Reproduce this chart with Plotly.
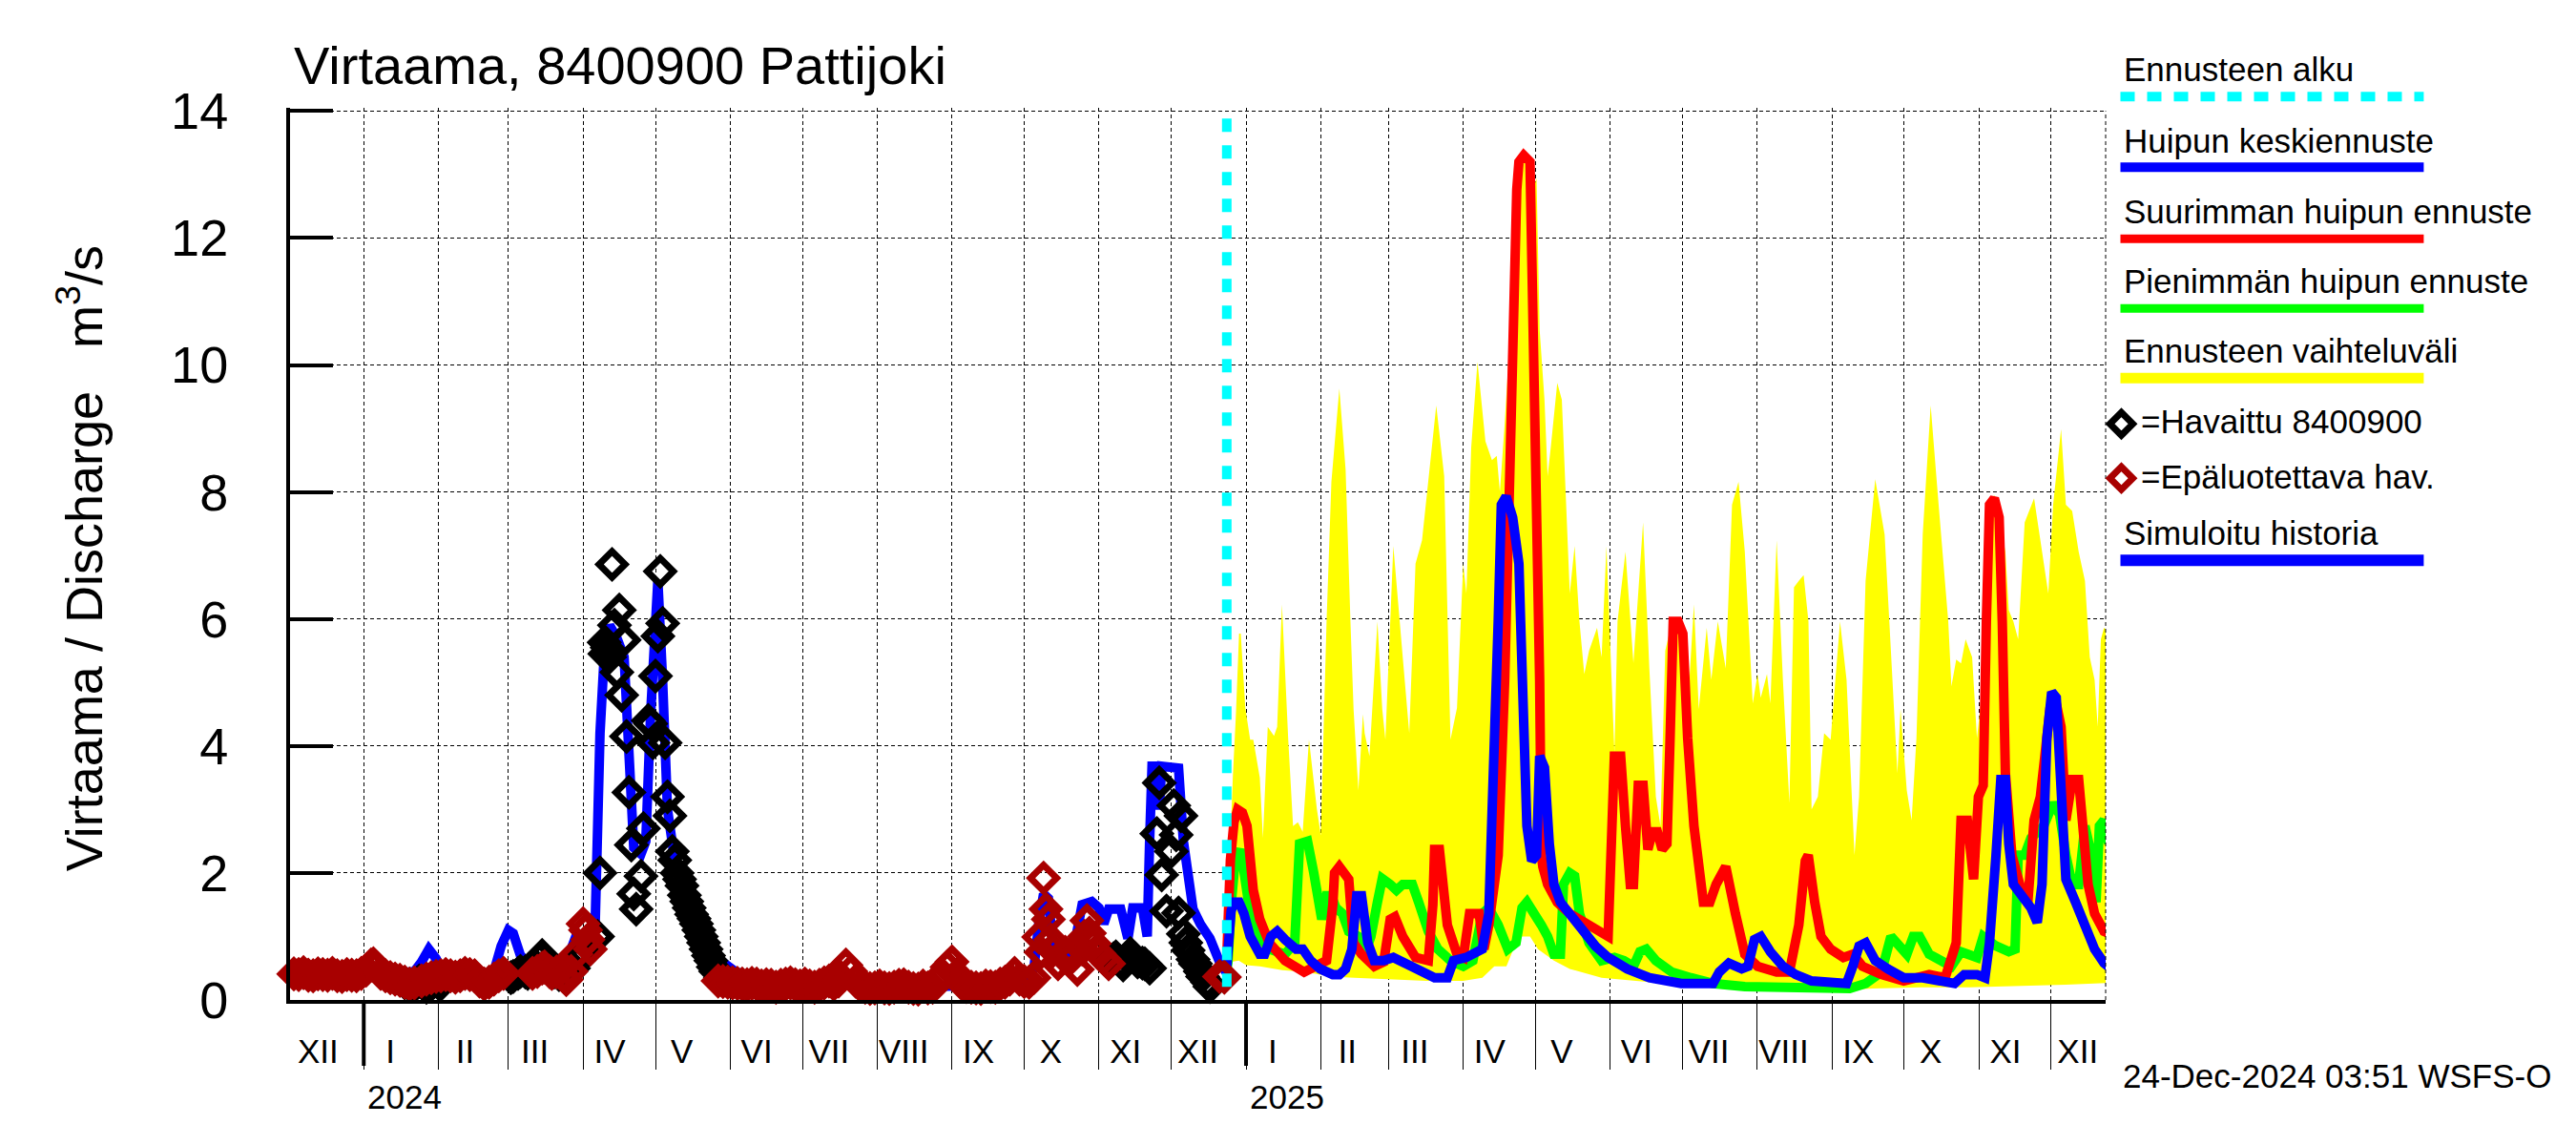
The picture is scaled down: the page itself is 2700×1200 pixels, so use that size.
import plotly.graph_objects as go
import pandas as pd

# ---------------- data ----------------
FORECAST_START = "2024-12-24"
X_START = "2023-12-01 10:00"
X_END = "2025-12-23 14:00"
FC_BASE = "2025-01-01"          # forecast day offsets are counted from this date

MONTH_LABELS = ["XII",
                "I", "II", "III", "IV", "V", "VI", "VII", "VIII", "IX", "X", "XI", "XII",
                "I", "II", "III", "IV", "V", "VI", "VII", "VIII", "IX", "X", "XI", "XII"]
YEAR_STARTS = ["2024-01-01", "2025-01-01"]
YEAR_LABELS = ["2024", "2025"]
Y_TICKS = [0, 2, 4, 6, 8, 10, 12, 14]

TITLE = "Virtaama, 8400900 Pattijoki"
Y_TITLE = "Virtaama / Discharge\u00a0\u00a0\u00a0m<sup>3</sup>/s"
STAMP = "24-Dec-2024 03:51 WSFS-O"

# simulated history (blue)
SIM_HISTORY = [
    ("2023-12-01", 0.42), ("2023-12-10", 0.40), ("2023-12-20", 0.38), ("2023-12-31", 0.36),
    ("2024-01-08", 0.38), ("2024-01-15", 0.42), ("2024-01-22", 0.45), ("2024-01-25", 0.60),
    ("2024-01-28", 0.80), ("2024-01-31", 0.65), ("2024-02-03", 0.42), ("2024-02-10", 0.38),
    ("2024-02-18", 0.36), ("2024-02-24", 0.45), ("2024-02-27", 0.85), ("2024-03-01", 1.10),
    ("2024-03-03", 1.05), ("2024-03-06", 0.70), ("2024-03-10", 0.55), ("2024-03-15", 0.50),
    ("2024-03-20", 0.45), ("2024-03-25", 0.60), ("2024-03-29", 1.00), ("2024-04-03", 1.05),
    ("2024-04-06", 1.20), ("2024-04-08", 4.20), ("2024-04-10", 5.60), ("2024-04-12", 5.90),
    ("2024-04-15", 5.70), ("2024-04-18", 5.40), ("2024-04-20", 4.00), ("2024-04-22", 2.40),
    ("2024-04-25", 2.30), ("2024-04-27", 2.50), ("2024-04-29", 4.50), ("2024-05-01", 6.40),
    ("2024-05-02", 6.60), ("2024-05-04", 5.00), ("2024-05-06", 3.00), ("2024-05-09", 2.20),
    ("2024-05-13", 1.70), ("2024-05-16", 1.45), ("2024-05-21", 1.00), ("2024-05-27", 0.65),
    ("2024-06-03", 0.45), ("2024-06-10", 0.35), ("2024-06-20", 0.30), ("2024-07-01", 0.27),
    ("2024-07-15", 0.25), ("2024-08-01", 0.22), ("2024-08-15", 0.20), ("2024-09-01", 0.22),
    ("2024-09-15", 0.22), ("2024-09-25", 0.25), ("2024-10-01", 0.30), ("2024-10-05", 0.50),
    ("2024-10-07", 1.20), ("2024-10-09", 1.67), ("2024-10-11", 1.60), ("2024-10-13", 0.80),
    ("2024-10-18", 0.60), ("2024-10-22", 0.90), ("2024-10-25", 1.50), ("2024-10-29", 1.55),
    ("2024-11-01", 1.45), ("2024-11-03", 1.20), ("2024-11-05", 1.43), ("2024-11-10", 1.43),
    ("2024-11-13", 0.97), ("2024-11-15", 1.45), ("2024-11-19", 1.45), ("2024-11-21", 1.00),
    ("2024-11-22", 2.50), ("2024-11-23", 3.68), ("2024-11-25", 3.68), ("2024-11-26", 3.00),
    ("2024-11-27", 3.68), ("2024-12-04", 3.65), ("2024-12-06", 2.50), ("2024-12-08", 1.90),
    ("2024-12-10", 1.43), ("2024-12-13", 1.20), ("2024-12-17", 0.97), ("2024-12-21", 0.60),
    ("2024-12-24", 0.42),
]

# observed (black diamonds)
OBS_BLACK = [
    ("2024-01-18", 0.27), ("2024-01-20", 0.24), ("2024-01-21", 0.22), ("2024-01-23", 0.26),
    ("2024-01-24", 0.30), ("2024-01-26", 0.24), ("2024-01-27", 0.20), ("2024-01-29", 0.25),
    ("2024-01-30", 0.28), ("2024-02-01", 0.26), ("2024-02-02", 0.25),
    ("2024-03-02", 0.35), ("2024-03-03", 0.37), ("2024-03-05", 0.42), ("2024-03-06", 0.45),
    ("2024-03-08", 0.44), ("2024-03-09", 0.42), ("2024-03-11", 0.50), ("2024-03-12", 0.55),
    ("2024-03-14", 0.65), ("2024-03-15", 0.70), ("2024-03-17", 0.58), ("2024-03-18", 0.50),
    ("2024-03-20", 0.44), ("2024-03-22", 0.40), ("2024-03-26", 0.42), ("2024-03-28", 0.50),
    ("2024-03-30", 0.62), ("2024-03-31", 0.72), ("2024-04-03", 0.90),
    ("2024-04-07", 1.00), ("2024-04-08", 2.00), ("2024-04-09 18:00", 5.63), ("2024-04-10", 5.45),
    ("2024-04-11", 5.55), ("2024-04-12", 5.40), ("2024-04-13", 6.86), ("2024-04-14", 5.90),
    ("2024-04-15", 5.16), ("2024-04-16", 6.14), ("2024-04-17", 4.80), ("2024-04-18", 5.67),
    ("2024-04-19", 4.15), ("2024-04-20", 3.27), ("2024-04-21", 2.44), ("2024-04-22", 1.67),
    ("2024-04-23", 1.43), ("2024-04-25", 1.95), ("2024-04-26", 2.70), ("2024-04-28", 4.40),
    ("2024-04-29", 4.35), ("2024-04-30", 4.05), ("2024-05-01", 5.10), ("2024-05-02", 5.73),
    ("2024-05-03", 6.75), ("2024-05-04", 5.93), ("2024-05-05", 4.05), ("2024-05-06", 3.20),
    ("2024-05-07", 2.90), ("2024-05-08", 2.34), ("2024-05-09", 2.20), ("2024-05-10", 2.00),
    ("2024-05-11", 1.90), ("2024-05-12", 1.80), ("2024-05-13", 1.65), ("2024-05-14", 1.55),
    ("2024-05-15", 1.45), ("2024-05-16", 1.35), ("2024-05-17", 1.28), ("2024-05-18", 1.20),
    ("2024-05-19", 1.10), ("2024-05-20", 1.00), ("2024-05-21", 0.90), ("2024-05-22", 0.80),
    ("2024-05-23", 0.70), ("2024-05-24", 0.62), ("2024-05-25", 0.52), ("2024-05-26", 0.45),
    ("2024-05-28", 0.35),
    ("2024-11-05", 0.60), ("2024-11-07", 0.65), ("2024-11-08", 0.68), ("2024-11-10", 0.60),
    ("2024-11-11", 0.55), ("2024-11-13", 0.66), ("2024-11-14", 0.73), ("2024-11-16", 0.65),
    ("2024-11-17", 0.60), ("2024-11-19", 0.58), ("2024-11-20", 0.57), ("2024-11-22", 0.50),
    ("2024-11-25", 2.62), ("2024-11-26", 3.42), ("2024-11-27", 1.97), ("2024-11-29", 1.40),
    ("2024-12-01", 2.34), ("2024-12-02", 3.06), ("2024-12-03", 2.60), ("2024-12-04", 1.37),
    ("2024-12-05", 2.90), ("2024-12-06", 1.04), ("2024-12-07", 0.90), ("2024-12-08", 0.78),
    ("2024-12-10", 0.64), ("2024-12-11", 0.57), ("2024-12-13", 0.45), ("2024-12-14", 0.37),
    ("2024-12-16", 0.28), ("2024-12-17", 0.21),
]

# unreliable observations (dark red diamonds)
OBS_RED = [
    ("2023-12-01", 0.42), ("2023-12-03", 0.41), ("2023-12-05", 0.40), ("2023-12-07", 0.43),
    ("2023-12-09", 0.39), ("2023-12-11", 0.38), ("2023-12-13", 0.41), ("2023-12-15", 0.40),
    ("2023-12-17", 0.39), ("2023-12-19", 0.42), ("2023-12-21", 0.38), ("2023-12-23", 0.37),
    ("2023-12-25", 0.40), ("2023-12-27", 0.39), ("2023-12-29", 0.38), ("2023-12-31", 0.42),
    ("2024-01-02", 0.47), ("2024-01-04", 0.55), ("2024-01-05", 0.57), ("2024-01-06", 0.52),
    ("2024-01-08", 0.42), ("2024-01-10", 0.38), ("2024-01-12", 0.35), ("2024-01-14", 0.33),
    ("2024-01-16", 0.31), ("2024-01-18", 0.28), ("2024-01-20", 0.25), ("2024-01-22", 0.27),
    ("2024-01-25", 0.30), ("2024-01-27", 0.33), ("2024-01-29", 0.35), ("2024-01-31", 0.37),
    ("2024-02-02", 0.38), ("2024-02-04", 0.40), ("2024-02-06", 0.38), ("2024-02-08", 0.36),
    ("2024-02-10", 0.38), ("2024-02-12", 0.42), ("2024-02-14", 0.40), ("2024-02-16", 0.38),
    ("2024-02-18", 0.30), ("2024-02-20", 0.25), ("2024-02-22", 0.28), ("2024-02-24", 0.33),
    ("2024-02-26", 0.38), ("2024-02-28", 0.42),
    ("2024-03-11", 0.42), ("2024-03-13", 0.45), ("2024-03-15", 0.50), ("2024-03-16", 0.52),
    ("2024-03-18", 0.45), ("2024-03-19", 0.42), ("2024-03-21", 0.44), ("2024-03-22", 0.45),
    ("2024-03-24", 0.38), ("2024-03-25", 0.32), ("2024-03-27", 0.45), ("2024-03-29", 0.72),
    ("2024-04-01", 1.20), ("2024-04-02", 1.10), ("2024-04-03", 0.95), ("2024-04-04", 0.80),
    ("2024-05-27", 0.30), ("2024-05-29", 0.29), ("2024-05-31", 0.28), ("2024-06-02", 0.27),
    ("2024-06-04", 0.26), ("2024-06-06", 0.25), ("2024-06-08", 0.24), ("2024-06-10", 0.26),
    ("2024-06-12", 0.25), ("2024-06-14", 0.22), ("2024-06-16", 0.24), ("2024-06-18", 0.23),
    ("2024-06-20", 0.20), ("2024-06-22", 0.23), ("2024-06-24", 0.25), ("2024-06-26", 0.27),
    ("2024-06-28", 0.24), ("2024-06-30", 0.22), ("2024-07-02", 0.25), ("2024-07-04", 0.22),
    ("2024-07-06", 0.20), ("2024-07-08", 0.23), ("2024-07-10", 0.27), ("2024-07-12", 0.30),
    ("2024-07-14", 0.25), ("2024-07-16", 0.30), ("2024-07-17", 0.35), ("2024-07-19", 0.55),
    ("2024-07-21", 0.45), ("2024-07-23", 0.30), ("2024-07-25", 0.23), ("2024-07-27", 0.20),
    ("2024-07-29", 0.18), ("2024-07-31", 0.19), ("2024-08-02", 0.22), ("2024-08-04", 0.19),
    ("2024-08-06", 0.18), ("2024-08-08", 0.20), ("2024-08-10", 0.23), ("2024-08-12", 0.24),
    ("2024-08-14", 0.20), ("2024-08-16", 0.18), ("2024-08-18", 0.17), ("2024-08-20", 0.22),
    ("2024-08-22", 0.19), ("2024-08-24", 0.20), ("2024-08-26", 0.30), ("2024-08-28", 0.40),
    ("2024-08-30", 0.52), ("2024-09-01", 0.60), ("2024-09-03", 0.40), ("2024-09-05", 0.26),
    ("2024-09-07", 0.21), ("2024-09-09", 0.20), ("2024-09-11", 0.19), ("2024-09-13", 0.18),
    ("2024-09-15", 0.22), ("2024-09-17", 0.21), ("2024-09-19", 0.20), ("2024-09-21", 0.25),
    ("2024-09-23", 0.28), ("2024-09-25", 0.33), ("2024-09-27", 0.42), ("2024-09-29", 0.33),
    ("2024-10-01", 0.29), ("2024-10-03", 0.28), ("2024-10-05", 0.35), ("2024-10-07", 0.99),
    ("2024-10-08", 0.75), ("2024-10-09", 1.92), ("2024-10-10", 1.43), ("2024-10-11", 1.27),
    ("2024-10-12", 0.95), ("2024-10-13", 0.78), ("2024-10-15", 0.57), ("2024-10-17", 0.70),
    ("2024-10-18", 0.75), ("2024-10-20", 0.72), ("2024-10-21", 0.68), ("2024-10-23", 0.48),
    ("2024-10-25", 0.80), ("2024-10-26", 1.00), ("2024-10-27", 1.25), ("2024-10-28", 1.05),
    ("2024-10-30", 0.89), ("2024-11-01", 0.73), ("2024-11-03", 0.65), ("2024-11-05", 0.57),
    ("2024-12-21", 0.37), ("2024-12-23", 0.36),
]

# forecasts: (days after 2025-01-01, value)
FC_MAX = [  # red, largest peak
    (-8.2, 0.45), (-7.5, 1.3), (-6.5, 2.2), (-5, 2.8), (-3.5, 3.0), (-1.5, 2.95), (0.4, 2.74),
    (3.0, 1.73), (5.7, 1.27), (9.6, 0.9), (16.2, 0.62), (24.1, 0.44), (29.4, 0.53), (33.4, 0.62),
    (36.0, 1.5), (36.7, 2.0), (38.7, 2.1), (42.6, 1.9), (44.6, 0.9), (47.9, 0.72), (53.2, 0.53),
    (57.1, 0.6), (59.8, 1.27), (61.7, 1.31), (65.0, 1.0), (70.3, 0.67), (75.6, 0.62), (77.5, 1.5),
    (78.2, 2.37), (80.2, 2.37), (83.5, 1.18), (87.5, 0.72), (90.1, 0.67), (92.7, 1.36), (96.7, 1.36),
    (98.7, 0.8), (100.7, 1.18), (104.6, 2.28), (107.3, 5.04), (108.6, 7.15), (109.9, 9.63),
    (111.2, 11.47), (112.3, 12.76), (113.2, 13.2), (115.2, 13.3), (117.8, 13.2), (118.5, 11.9),
    (120.5, 7.8), (121.8, 5.04), (122.5, 2.28), (123.1, 2.1), (125.1, 1.82), (129.1, 1.54),
    (134.3, 1.36), (142.3, 1.18), (147.5, 1.08), (150.2, 1.0), (152.8, 3.84), (155.4, 3.84),
    (157.4, 2.74), (159.4, 1.82), (160.7, 1.82), (162.7, 3.38), (164.7, 3.38), (166.7, 2.37),
    (168.6, 2.65), (170.6, 2.65), (172.6, 2.37), (174.6, 2.46), (175.9, 4.12), (177.2, 5.96),
    (179.2, 5.96), (181.2, 5.77), (183.2, 4.12), (185.8, 2.74), (189.7, 1.54), (192.4, 1.54),
    (195.0, 1.82), (199.0, 2.1), (203.0, 1.36), (206.9, 0.72), (212.2, 0.53), (220.1, 0.44),
    (225.4, 0.44), (229.3, 1.18), (232.0, 2.19), (233.2, 2.28), (235.9, 1.54), (238.5, 1.0),
    (242.5, 0.8), (247.8, 0.67), (251.7, 0.72), (255.7, 0.53), (263.6, 0.4), (272.8, 0.3),
    (283.4, 0.4), (290.0, 0.35), (294.6, 0.9), (296.6, 2.83), (299.2, 2.83), (301.8, 1.9),
    (303.8, 3.2), (305.8, 3.38), (307.1, 5.96), (308.4, 7.8), (310.4, 7.9), (312.4, 7.6),
    (313.7, 5.96), (315.0, 3.57), (317.7, 2.28), (321.6, 1.73), (324.3, 1.54), (326.9, 2.83),
    (329.5, 3.2), (333.5, 4.58), (336.1, 4.67), (338.1, 4.3), (340.1, 2.83), (342.7, 3.47),
    (345.4, 3.47), (346.7, 2.74), (349.3, 1.82), (352.0, 1.36), (355.9, 1.08), (357.9, 1.05),
]
FC_MEAN = [  # blue, mean peak
    (-8.2, 0.42), (-7.5, 0.9), (-6.2, 1.4), (-5, 1.54), (-2.9, 1.54), (-0.9, 1.36), (1.7, 1.0),
    (5.7, 0.72), (7.7, 0.72), (10.3, 1.0), (12.9, 1.08), (16.2, 0.95), (20.8, 0.8), (23.5, 0.8),
    (26.8, 0.62), (30.7, 0.49), (36.0, 0.4), (38.7, 0.4), (41.3, 0.49), (43.9, 0.8), (45.9, 1.64),
    (47.9, 1.64), (50.5, 0.9), (53.2, 0.62), (57.1, 0.62), (61.1, 0.67), (66.4, 0.58), (71.6, 0.49),
    (78.2, 0.35), (83.5, 0.35), (86.1, 0.62), (91.4, 0.67), (98.0, 0.8), (100.7, 1.36), (102.6, 3.2),
    (104.6, 5.96), (105.9, 7.8), (107.9, 7.93), (110.6, 7.6), (112.0, 7.2), (113.2, 6.87),
    (113.9, 5.96), (115.2, 4.12), (116.5, 2.74), (118.5, 2.19), (120.5, 2.28), (121.8, 3.84),
    (123.8, 3.66), (125.8, 2.46), (127.7, 1.82), (130.4, 1.54), (134.3, 1.36), (139.6, 1.08),
    (144.9, 0.85), (150.2, 0.67), (158.1, 0.49), (167.3, 0.35), (180.5, 0.26), (193.7, 0.26),
    (196.3, 0.44), (200.3, 0.58), (205.6, 0.49), (208.2, 0.53), (210.9, 0.95), (213.5, 1.0),
    (217.5, 0.76), (222.7, 0.53), (228.0, 0.4), (234.6, 0.3), (243.8, 0.26), (249.1, 0.26),
    (251.7, 0.53), (254.3, 0.85), (257.0, 0.9), (261.0, 0.62), (266.2, 0.49), (272.8, 0.35),
    (280.7, 0.35), (287.3, 0.3), (293.9, 0.26), (297.9, 0.4), (303.2, 0.4), (306.5, 0.35),
    (308.4, 0.9), (311.1, 2.28), (313.1, 3.47), (315.0, 3.47), (316.4, 2.46), (318.3, 1.82),
    (323.0, 1.54), (325.6, 1.45), (328.2, 1.22), (330.2, 1.82), (332.2, 4.12), (334.2, 4.85),
    (336.1, 4.76), (338.1, 3.2), (340.1, 1.9), (344.1, 1.54), (348.0, 1.18), (352.0, 0.8),
    (355.9, 0.58), (357.9, 0.52),
]
FC_MIN = [  # green, smallest peak
    (-8.2, 0.42), (-7.5, 0.6), (-6.2, 1.5), (-4.5, 2.2), (-2.2, 2.37), (-0.9, 2.1), (1.7, 1.36),
    (5.7, 1.0), (9.6, 0.8), (16.2, 0.72), (20.2, 0.9), (22.2, 2.46), (25.5, 2.5), (28.1, 2.0),
    (31.4, 1.27), (33.4, 1.64), (35.4, 1.64), (37.3, 1.45), (40.0, 1.36), (42.6, 1.08), (46.6, 1.0),
    (49.2, 0.72), (51.8, 1.0), (54.5, 1.54), (56.5, 1.91), (59.8, 1.82), (62.4, 1.73), (65.0, 1.82),
    (69.0, 1.82), (71.6, 1.54), (75.6, 1.08), (79.6, 0.8), (84.8, 0.62), (90.1, 0.53), (94.1, 0.62),
    (98.0, 1.36), (100.7, 1.45), (104.6, 1.18), (108.6, 0.8), (112.0, 0.9), (114.5, 1.45),
    (116.5, 1.54), (119.2, 1.4), (122.5, 1.18), (125.1, 1.0), (127.7, 0.72), (130.4, 0.72),
    (131.7, 1.82), (134.3, 2.0), (136.3, 1.95), (138.3, 1.36), (142.3, 0.9), (147.5, 0.62),
    (152.8, 0.67), (156.8, 0.62), (160.7, 0.53), (163.4, 0.76), (166.0, 0.8), (170.0, 0.62),
    (176.6, 0.44), (184.5, 0.35), (193.7, 0.26), (206.9, 0.21), (220.1, 0.21), (234.6, 0.18),
    (250.4, 0.18), (257.0, 0.26), (263.6, 0.44), (267.5, 1.0), (270.2, 0.9), (274.1, 0.72),
    (276.8, 1.0), (279.4, 1.0), (283.4, 0.72), (288.6, 0.62), (292.6, 0.53), (296.6, 0.76),
    (299.2, 0.72), (303.2, 0.67), (305.8, 1.0), (311.1, 0.85), (316.4, 0.76), (319.0, 0.8),
    (320.3, 2.28), (323.0, 2.28), (325.6, 2.55), (328.2, 2.65), (330.9, 2.74), (334.8, 3.1),
    (337.5, 2.92), (340.1, 2.28), (342.7, 1.82), (345.4, 1.82), (348.0, 2.74), (350.7, 2.28),
    (352.6, 1.54), (354.0, 2.74), (355.9, 2.83), (357.9, 2.46),
]
FC_UPPER = [  # yellow band, upper edge
    (-8.2, 0.45), (-7.0, 2.0), (-5.5, 3.5), (-4.2, 4.5), (-2.9, 5.77), (-2.2, 5.77), (-0.3, 4.6),
    (1.7, 4.1), (3.0, 4.1), (5.7, 3.5), (7.0, 2.55), (9.0, 4.3), (11.6, 4.16), (12.9, 4.3),
    (14.9, 6.23), (17.5, 4.1), (19.5, 2.74), (21.5, 2.8), (23.5, 2.65), (26.1, 4.1), (29.4, 3.0),
    (31.0, 2.6), (33.4, 5.96), (35.4, 8.16), (38.7, 9.63), (41.3, 8.35), (43.3, 5.96), (44.6, 4.58),
    (46.6, 3.3), (48.5, 4.5), (49.2, 4.2), (51.2, 3.84), (54.5, 5.96), (56.5, 4.58), (57.8, 4.1),
    (61.1, 7.15), (65.0, 5.4), (67.7, 4.2), (70.3, 6.87), (73.0, 7.24), (78.9, 9.36), (82.2, 8.25),
    (84.8, 4.1), (87.5, 4.6), (90.1, 6.87), (91.4, 6.4), (93.4, 8.7), (96.0, 10.05), (99.3, 8.8),
    (102.0, 8.5), (104.0, 8.57), (105.3, 8.0), (107.3, 9.08), (109.9, 10.74), (111.3, 11.6),
    (113.2, 13.25), (115.2, 13.35), (117.8, 13.25), (119.8, 12.85), (120.5, 12.94), (121.8, 10.55),
    (123.8, 9.45), (125.1, 8.25), (126.4, 8.7), (129.1, 9.72), (131.0, 9.45), (133.0, 7.43),
    (134.3, 6.4), (136.3, 7.15), (138.3, 5.96), (140.3, 5.13), (142.3, 5.5), (145.6, 5.86),
    (147.5, 5.4), (149.5, 7.15), (151.5, 5.04), (152.8, 3.9), (154.1, 5.96), (157.4, 7.06),
    (160.7, 5.31), (164.7, 7.52), (167.3, 5.22), (170.0, 3.2), (171.9, 2.74), (173.9, 5.5),
    (176.6, 5.95), (179.2, 6.0), (181.2, 5.8), (183.2, 4.6), (185.8, 6.23), (187.8, 4.58),
    (191.1, 5.86), (193.0, 5.04), (195.7, 5.96), (199.0, 5.22), (201.6, 7.8), (204.3, 8.16),
    (206.9, 7.06), (210.2, 4.67), (212.2, 5.13), (213.5, 4.76), (216.1, 5.13), (217.5, 4.67),
    (220.1, 7.24), (222.7, 5.04), (225.4, 3.1), (227.3, 6.5), (229.3, 6.6), (231.3, 6.69),
    (233.3, 5.96), (234.6, 3.0), (237.2, 3.2), (239.8, 4.2), (242.5, 4.1), (246.4, 5.96),
    (249.1, 5.04), (252.4, 2.28), (254.3, 3.2), (257.0, 6.6), (261.0, 8.2), (264.9, 7.33),
    (267.5, 5.5), (270.2, 3.57), (271.5, 4.58), (274.1, 3.3), (276.1, 2.83), (278.1, 4.12),
    (280.7, 7.33), (284.0, 9.36), (287.3, 7.8), (291.3, 5.96), (292.6, 4.94), (294.6, 5.36),
    (296.6, 5.3), (298.5, 5.68), (301.2, 5.4), (303.2, 4.12), (305.8, 5.04), (307.1, 6.7),
    (308.4, 7.85), (310.4, 7.95), (312.4, 7.6), (315.0, 7.06), (316.4, 6.14), (318.3, 5.96),
    (320.3, 5.68), (323.0, 7.52), (326.9, 7.9), (330.9, 6.87), (332.8, 6.4), (334.8, 7.8),
    (338.1, 8.99), (340.1, 7.8), (342.7, 7.7), (345.4, 7.06), (348.0, 6.6), (350.0, 5.4),
    (352.0, 5.04), (353.3, 4.3), (354.6, 5.68), (355.9, 5.86), (357.9, 5.8),
]
FC_LOWER = [  # yellow band, lower edge
    (-8.2, 0.42), (-6.0, 0.6), (-3.0, 0.62), (0.0, 0.55), (5.7, 0.53), (15.0, 0.47), (25.0, 0.44),
    (35.0, 0.37), (45.0, 0.35), (60.0, 0.32), (75.0, 0.3), (90.0, 0.3), (98.0, 0.35), (103.0, 0.53),
    (108.0, 0.53), (112.0, 0.9), (114.5, 1.0), (117.8, 1.0), (121.1, 0.8), (127.7, 0.62),
    (134.3, 0.49), (147.5, 0.35), (160.7, 0.3), (173.9, 0.26), (200.0, 0.17), (235.0, 0.17),
    (250.4, 0.16), (260.0, 0.18), (280.0, 0.2), (300.0, 0.2), (320.0, 0.22), (340.0, 0.24),
    (357.9, 0.27),
]

LEGEND_TEXT = ["Ennusteen alku", "Huipun keskiennuste", "Suurimman huipun ennuste",
               "Pienimmän huipun ennuste", "Ennusteen vaihteluväli",
               "=Havaittu 8400900", "=Epäluotettava hav.", "Simuloitu historia"]

# ---------------- styling / geometry ----------------
FONT = "Liberation Sans, Arial, Helvetica, sans-serif"
W, H = 2700, 1200
SHIFT = 8.0                        # page body margin offset
PL, PR, PT, PB = 304.0 - SHIFT, 2207.5 - SHIFT, 112.7 - SHIFT, 1048.0 - SHIFT
BLUE, RED, GREEN, YELLOW, CYAN = "#0000ff", "#ff0000", "#00ff00", "#ffff00", "#00ffff"
DARKRED = "#a80000"


def px(x):   # target screenshot pixel -> paper x
    return (x - SHIFT - PL) / (PR - PL)


def py(y):   # target screenshot pixel -> paper y
    return (PB - (y - SHIFT)) / (PB - PT)


def split_dates(pairs):
    return [pd.Timestamp(d) for d, _ in pairs], [v for _, v in pairs]


def split_fc(pairs):
    base = pd.Timestamp(FC_BASE)
    return [base + pd.Timedelta(days=d) for d, _ in pairs], [v for _, v in pairs]


fig = go.Figure()

lx, ly = split_fc(FC_LOWER)
ux, uy = split_fc(FC_UPPER)
fig.add_trace(go.Scatter(x=lx, y=ly, mode="lines", line=dict(width=0, color=YELLOW),
                         hoverinfo="skip"))
fig.add_trace(go.Scatter(x=ux, y=uy, mode="lines", line=dict(width=0, color=YELLOW),
                         fill="tonexty", fillcolor=YELLOW, hoverinfo="skip"))

for series, col in ((FC_MIN, GREEN), (FC_MAX, RED), (FC_MEAN, BLUE)):
    x, y = split_fc(series)
    fig.add_trace(go.Scatter(x=x, y=y, mode="lines", line=dict(width=10, color=col)))

sx, sy = split_dates(SIM_HISTORY)
fig.add_trace(go.Scatter(x=sx, y=sy, mode="lines", line=dict(width=10, color=BLUE)))

for series, col in ((OBS_BLACK, "black"), (OBS_RED, DARKRED)):
    x, y = split_dates(series)
    fig.add_trace(go.Scatter(x=x, y=y, mode="markers", cliponaxis=False,
                             marker=dict(symbol="diamond-open", size=21, color=col,
                                         line=dict(width=7, color=col))))

# month label positions (centred around the 12th) and month boundaries
month_starts = pd.date_range("2024-01-01", "2025-12-01", freq="MS")
label_pos = [pd.Timestamp("2023-12-13")] + [m + pd.Timedelta(days=11) for m in month_starts]

fig.update_layout(
    width=W, height=H,
    margin=dict(l=PL, r=W - PR, t=PT, b=H - PB, pad=0),
    plot_bgcolor="white", paper_bgcolor="white",
    showlegend=False,
    font=dict(family=FONT, color="black"),
    xaxis=dict(
        type="date", range=[X_START, X_END], showgrid=False, zeroline=False,
        showline=True, linewidth=4, linecolor="black",
        tickmode="array", tickvals=label_pos, ticktext=MONTH_LABELS, ticks="",
        ticklabelstandoff=20, tickfont=dict(size=35, family=FONT, color="black"),
        minor=dict(tickmode="array", tickvals=list(month_starts), ticks="outside",
                   ticklen=69, tickwidth=1, tickcolor="black", showgrid=True,
                   gridcolor="black", gridwidth=1, griddash="4px,3px"),
        automargin=False,
    ),
    yaxis=dict(
        range=[0, 14.05], tickmode="array", tickvals=Y_TICKS, ticks="inside", ticklen=45,
        tickwidth=3.5, tickcolor="black", showline=True, linewidth=4, linecolor="black",
        showgrid=True, gridcolor="black", gridwidth=1, griddash="4px,3px", zeroline=False,
        tickfont=dict(size=54, family=FONT, color="black"), ticklabelstandoff=50,
        automargin=False,
    ),
)

shapes = []
# right border (dashed)
shapes.append(dict(type="line", xref="paper", yref="paper", x0=1, x1=1, y0=0, y1=py(116),
                   line=dict(color="black", width=1, dash="4px,3px")))
# thick year ticks
for ys in YEAR_STARTS:
    shapes.append(dict(type="line", xref="x", yref="paper", x0=ys, x1=ys, y0=0,
                       y1=-69 / (PB - PT), line=dict(color="black", width=4)))
# forecast start line (dash pattern starting at the top)
shapes.append(dict(type="line", xref="x", yref="paper", x0=FORECAST_START, x1=FORECAST_START,
                   y0=py(124), y1=0, line=dict(color=CYAN, width=10, dash="14px,14px")))

annotations = []
annotations.append(dict(text=TITLE, xref="paper", yref="paper", x=px(306), y=py(68),
                        xanchor="left", yanchor="middle", showarrow=False,
                        font=dict(size=56, family=FONT, color="black")))
annotations.append(dict(text=Y_TITLE, xref="paper", yref="paper", x=px(84), y=py(585),
                        textangle=-90, xanchor="center", yanchor="middle", showarrow=False,
                        font=dict(size=54, family=FONT, color="black")))
annotations.append(dict(text=STAMP, xref="paper", yref="paper", x=px(2224), y=py(1128),
                        xanchor="left", yanchor="middle", showarrow=False,
                        font=dict(size=35, family=FONT, color="black")))
for ys, lab in zip(YEAR_STARTS, YEAR_LABELS):
    annotations.append(dict(text=lab, xref="x", yref="paper", x=ys, y=py(1150), xshift=2,
                            xanchor="left", yanchor="middle", showarrow=False,
                            font=dict(size=35, family=FONT, color="black")))

# legend
text_y = [72, 147, 221, 294, 367, 441, 499, 558]
text_x = [2225, 2225, 2225, 2225, 2225, 2243, 2243, 2225]
for t, tx, ty in zip(LEGEND_TEXT, text_x, text_y):
    annotations.append(dict(text=t, xref="paper", yref="paper", x=px(tx), y=py(ty),
                            xanchor="left", yanchor="middle", showarrow=False,
                            font=dict(size=35, family=FONT, color="black")))
legend_lines = [(101, CYAN, 10, "15px,13px"), (175, BLUE, 10, "solid"), (250, RED, 9, "solid"),
                (323, GREEN, 9, "solid"), (396, YELLOW, 11, "solid"), (587, BLUE, 12, "solid")]
for ly_, col, wd, dash in legend_lines:
    shapes.append(dict(type="line", xref="paper", yref="paper", x0=px(2223), x1=px(2541),
                       y0=py(ly_), y1=py(ly_), line=dict(color=col, width=wd, dash=dash)))
for cy, col in ((444, "black"), (501, DARKRED)):
    cx = 2224
    h = 12
    path = "M {:.5f},{:.5f} L {:.5f},{:.5f} L {:.5f},{:.5f} L {:.5f},{:.5f} Z".format(
        px(cx - h), py(cy), px(cx), py(cy - h), px(cx + h), py(cy), px(cx), py(cy + h))
    shapes.append(dict(type="path", xref="paper", yref="paper", path=path,
                       line=dict(color=col, width=7)))

fig.update_layout(shapes=shapes, annotations=annotations)
fig.write_html("out.html")
